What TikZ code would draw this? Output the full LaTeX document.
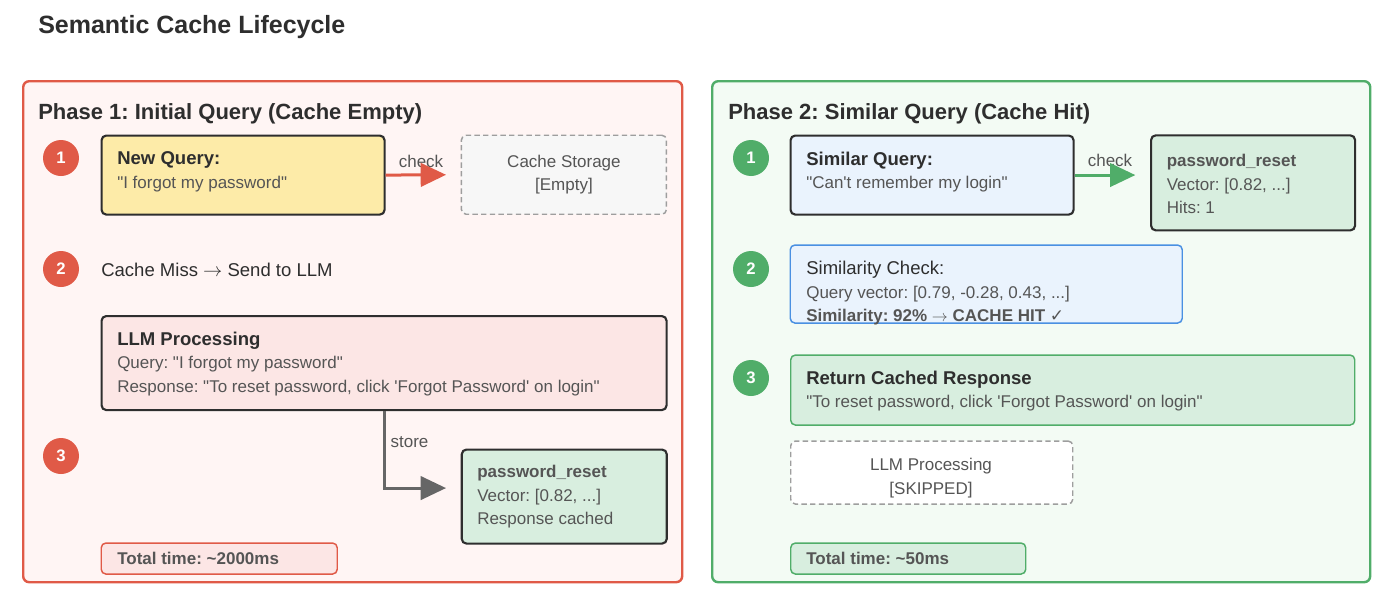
\documentclass[tikz,border=0pt]{standalone}
\usepackage{fontspec}
\setmainfont{Liberation Sans}[Ligatures=TeXOff]
\newfontfamily\symfont{DejaVu Sans}
\usepackage{xcolor}
\usetikzlibrary{arrows.meta,positioning,calc}
\frenchspacing

\definecolor{redc}{HTML}{E05A47}
\definecolor{redfill}{HTML}{FFF5F4}
\definecolor{pinkbox}{HTML}{FCE6E5}
\definecolor{yellowbox}{HTML}{FDEBA8}
\definecolor{greenc}{HTML}{50AD69}
\definecolor{greenfill}{HTML}{F3FBF4}
\definecolor{mint}{HTML}{D8EEDF}
\definecolor{bluebox}{HTML}{EAF3FD}
\definecolor{bluec}{HTML}{4A90E2}
\definecolor{ink}{HTML}{2E2E2E}
\definecolor{grayt}{HTML}{555555}
\definecolor{arrowgray}{HTML}{666666}
\definecolor{dashgray}{HTML}{9E9E9E}
\definecolor{cachefill}{HTML}{F7F7F7}

\newcommand{\bodyfont}{\fontsize{12.75}{17.6}\selectfont}
\newcommand{\boxhead}[1]{{\fontsize{13.9}{17.6}\selectfont\bfseries\color{ink}#1}}
\newcommand{\toarrow}{\ensuremath{\rightarrow}}

\begin{document}
\begin{tikzpicture}[x=0.75pt, y=-0.75pt,
        dims/.style 2 args={minimum width=#1*0.75pt, minimum height=#2*0.75pt},
        panel/.style={draw=#1, line width=1.8pt, rounded corners=4.5pt,
                      anchor=north west, inner sep=0pt},
        card/.style={draw=ink, line width=1.6pt, rounded corners=3.5pt,
                     anchor=north west, inner sep=0pt},
        softcard/.style={draw=#1, line width=1.1pt, rounded corners=3.5pt,
                         anchor=north west, inner sep=0pt},
        ghost/.style={draw=dashgray, dash pattern=on 4pt off 2.5pt, line width=1.1pt,
                      rounded corners=3.5pt, anchor=north west, inner sep=0pt,
                      align=center, text=grayt, font=\bodyfont},
        num/.style={circle, fill=#1, text=white, minimum size=27pt, inner sep=0pt,
                    font=\fontsize{12.5}{14}\selectfont\bfseries},
        head/.style={anchor=base west, inner sep=0pt, text=ink,
                     font=\fontsize{16.5}{20}\selectfont\bfseries},
        txt/.style={inner sep=0pt, anchor=west, align=left, text=grayt, font=\bodyfont},
        lbl/.style={inner sep=0pt, text=grayt, font=\bodyfont},
        flow/.style={draw=#1, line width=2.25pt, shorten >=11pt,
                     -{Triangle[length=19pt,width=17.5pt]}}
      ]
      \useasboundingbox[fill=white] (0,0) rectangle (1395,603);

      \node[anchor=base west, inner sep=0pt, text=ink,
            font=\fontsize{18.75}{22}\selectfont\bfseries] (title) at (38,33) {Semantic Cache Lifecycle};

      % phase 1
      \node[panel=redc, fill=redfill, dims={659}{501}] (ph1) at (22,80) {};
      \node[head] (h1) at (38,119) {Phase 1: Initial Query (Cache Empty)};
      \node[num=redc] (r1) at (61,158) {1};
      \node[num=redc] (r2) at (61,269) {2};
      \node[num=redc] (r3) at (61,456) {3};

      \node[card, fill=yellowbox, dims={283}{79}] (newq) at (100.5,134.5) {};
      \node[txt] (newqT) at (117,172) {\boxhead{New Query:}\\"I forgot my password"};
      \node[ghost, fill=cachefill, dims={205}{79}] (cache) at (460.7,134.5) {Cache Storage\\{}[Empty]};
      \node[lbl] (check1) at (421,161) {check};
      \draw[flow=redc] (newq.east) -- (cache.west);

      \node[txt, text=ink, font=\fontsize{13.9}{16}\selectfont] (miss) at (101,270) {Cache Miss \toarrow{} Send to LLM};

      \node[card, fill=pinkbox, dims={565}{94}] (llm) at (100.5,315) {};
      \node[txt] (llmT) at (117,364) {\boxhead{LLM Processing}\\Query: "I forgot my password"\\Response: "To reset password, click 'Forgot Password' on login"};

      \node[card, fill=mint, dims={205}{94}] (pr1) at (460.7,448.5) {};
      \node[txt] (pr1T) at (477,497) {{\bfseries password\_reset}\\Vector: [0.82, ...]\\Response cached};
      \node[lbl] (store) at (409.5,442.5) {store};
      \draw[flow=arrowgray] (llm.south) |- ($(pr1.west)+(0,-8.5)$);

      \node[softcard=redc, fill=pinkbox, dims={236}{31}] (tot1) at (100.5,542.3) {};
      \node[txt, font=\bodyfont\bfseries] (tot1T) at (117,558) {Total time: \textasciitilde 2000ms};

      % phase 2
      \node[panel=greenc, fill=greenfill, dims={658}{501}] (ph2) at (711,80) {};
      \node[head] (h2) at (728,119) {Phase 2: Similar Query (Cache Hit)};
      \node[num=greenc] (g1) at (751,158) {1};
      \node[num=greenc] (g2) at (751,269) {2};
      \node[num=greenc] (g3) at (751,378) {3};

      \node[card, fill=bluebox, dims={283}{79}] (simq) at (789.5,134.5) {};
      \node[txt] (simqT) at (806,172) {\boxhead{Similar Query:}\\"Can't remember my login"};
      \node[card, fill=mint, dims={204}{95}] (pr2) at (1150,134.3) {};
      \node[txt] (pr2T) at (1166.5,184) {{\bfseries password\_reset}\\Vector: [0.82, ...]\\Hits: 1};
      \node[lbl] (check2) at (1110,160) {check};
      \draw[flow=greenc] (simq.east) -- (simq.east -| pr2.west);

      \node[softcard=bluec, fill=bluebox, dims={392}{78}] (chk) at (789.5,244.3) {};
      \node[txt] (chkT) at (806,293.5) {{\fontsize{13.9}{17.6}\selectfont\color{ink}Similarity Check:}\\Query vector: [0.79, -0.28, 0.43, ...]\\{\bfseries Similarity: 92\% \toarrow{} CACHE HIT {\symfont ✓}}};

      \node[softcard=greenc, fill=mint, dims={564}{70}] (ret) at (790,354.3) {};
      \node[txt] (retT) at (806,391) {\boxhead{Return Cached Response}\\"To reset password, click 'Forgot Password' on login"};

      \node[ghost, fill=white, dims={282}{63}] (skip) at (790,440.3) {};
      \node[lbl, align=center] (skipT) at (931,478) {LLM Processing\\{}[SKIPPED]};

      \node[softcard=greenc, fill=mint, dims={235}{31}] (tot2) at (790,542.3) {};
      \node[txt, font=\bodyfont\bfseries] (tot2T) at (806,558) {Total time: \textasciitilde 50ms};
    \end{tikzpicture}
\end{document}
